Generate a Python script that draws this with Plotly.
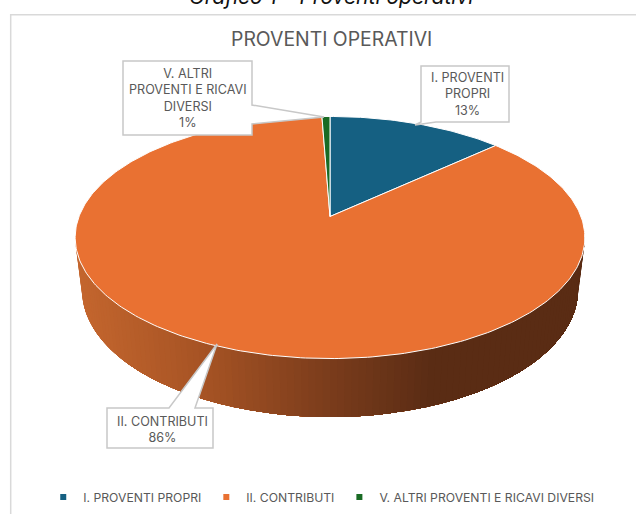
import math
import plotly.graph_objects as go

CATEGORIES = ["I. PROVENTI PROPRI", "II. CONTRIBUTI", "V. ALTRI PROVENTI E RICAVI DIVERSI"]
VALUES = [13.2, 86.2, 0.6]
COLORS = ["#156082", "#E97132", "#196B24"]
CALLOUT_LINES = [["I. PROVENTI", "PROPRI"], ["II. CONTRIBUTI"], ["V. ALTRI", "PROVENTI E RICAVI", "DIVERSI"]]
CHART_TITLE = "PROVENTI OPERATIVI"
CAPTION = "Grafico 1 – Proventi operativi"

FONT = "Inter"
GREY = "#595959"
BORDER = "#C8C8C8"

# projected pie geometry (plot units equal pixels)
CX, AY, A, B, P = 330.0, 216.5, 117.4, 251.0, 0.1736
TOP_E = (330.0, 237.0, 255.0, 121.0)
BOT_E = (330.0, 290.0, 248.0, 127.0)
SIDE_STOPS = [(75, (0xC4, 0x66, 0x2E)), (200, (0xA6, 0x53, 0x24)), (320, (0x7C, 0x3D, 0x1C)),
              (430, (0x5A, 0x2C, 0x14)), (590, (0x5A, 0x2C, 0x14))]


def rim(frac):
    th = 2 * math.pi * frac
    u, v = math.sin(th), math.cos(th)
    d = 1 + P * v
    return CX + B * u / d, AY - A * v / d


def side_color(x):
    for (x0, c0), (x1, c1) in zip(SIDE_STOPS, SIDE_STOPS[1:]):
        if x <= x1:
            t = max(0, (x - x0) / (x1 - x0))
            return "rgb(%d,%d,%d)" % tuple(round(a + (b - a) * t) for a, b in zip(c0, c1))
    return "rgb(90,44,20)"


def ell(e, t):
    return e[0] + e[2] * math.cos(t), e[1] + e[3] * math.sin(t)


fig = go.Figure()

# side wall: painter's bands, each covering everything to its right, so no seams show
N = 110
ts = [math.pi - math.pi * i / N for i in range(N + 1)]
for i in range(N):
    upper = [ell(TOP_E, t) for t in ts[i:]]
    lower = [ell(BOT_E, t) for t in reversed(ts[i:])]
    poly = upper + lower + [upper[0]]
    col = side_color(upper[0][0])
    fig.add_trace(go.Scatter(x=[p[0] for p in poly], y=[p[1] for p in poly],
                             fill="toself", fillcolor=col, mode="lines", line=dict(width=0),
                             showlegend=False, hoverinfo="skip"))

# top face slices
total = sum(VALUES)
cum = 0.0
for name, val, col in zip(CATEGORIES, VALUES, COLORS):
    f0, f1 = cum / total, (cum + val) / total
    cum += val
    n = max(4, int(val * 4))
    pts = [rim(f0 + (f1 - f0) * k / n) for k in range(n + 1)]
    xs = [CX] + [p[0] for p in pts] + [CX]
    ys = [AY] + [p[1] for p in pts] + [AY]
    fig.add_trace(go.Scatter(x=xs, y=ys, fill="toself", fillcolor=col, mode="lines",
                             line=dict(color="white", width=1), name=name,
                             showlegend=False, hoverinfo="name"))

# legend entries
for name, col in zip(CATEGORIES, COLORS):
    fig.add_trace(go.Scatter(x=[None], y=[None], mode="markers", name=name,
                             marker=dict(symbol="square", size=6, color=col)))

shapes = [
    dict(type="line", x0=11, x1=636, y0=14.7, y1=14.7, line=dict(color="#D9D9D9", width=1.5)),
    dict(type="line", x0=10.7, x1=10.7, y0=14, y1=514, line=dict(color="#D9D9D9", width=1.5)),
]
# callouts: box outline with tail, white filled
CALLOUTS = [
    "M 421 66 H 509 V 122 H 436 L 415 125 L 421 122 Z",
    "M 107 408 H 169 L 217 344 L 195 408 H 213 V 448 H 107 Z",
    "M 123 61 H 252 V 105 L 324 117 L 252 124 V 135 H 123 Z",
]
for path in CALLOUTS:
    shapes.append(dict(type="path", path=path, fillcolor="white", line=dict(color=BORDER, width=1.5), layer="above"))

pct = [f"{round(v / total * 100)}%" for v in VALUES]
CALLOUT_POS = [(467, 94), (162, 429), (188, 98)]
annotations = [
    dict(x=331, y=11, text="<i>" + CAPTION + "</i>", showarrow=False, font=dict(family=FONT, size=21, color="#111111"),
         xanchor="center", yanchor="bottom"),
    dict(x=331, y=39, text=CHART_TITLE, showarrow=False, font=dict(family=FONT, size=19.4, color=GREY),
         xanchor="center", yanchor="middle"),
]
for lines, p, (x, y) in zip(CALLOUT_LINES, pct, CALLOUT_POS):
    annotations.append(dict(x=x, y=y, text="<br>".join(lines + [p]), showarrow=False,
                            font=dict(family=FONT, size=12.6, color=GREY), align="center",
                            xanchor="center", yanchor="middle"))

fig.update_layout(
    width=636, height=514, margin=dict(l=0, r=0, t=0, b=0),
    paper_bgcolor="white", plot_bgcolor="white",
    xaxis=dict(range=[0, 636], visible=False, fixedrange=True),
    yaxis=dict(range=[514, 0], visible=False, fixedrange=True),
    shapes=shapes, annotations=annotations,
    showlegend=True,
    legend=dict(orientation="h", x=0.068, xanchor="left", y=0.033, yanchor="middle",
                font=dict(family=FONT, size=12.2, color=GREY), itemwidth=30, bgcolor="rgba(0,0,0,0)"),
)
fig.write_html("out.html", post_script="document.body.style.margin='0';document.body.style.overflow='hidden';",
               config={"displayModeBar": False})
